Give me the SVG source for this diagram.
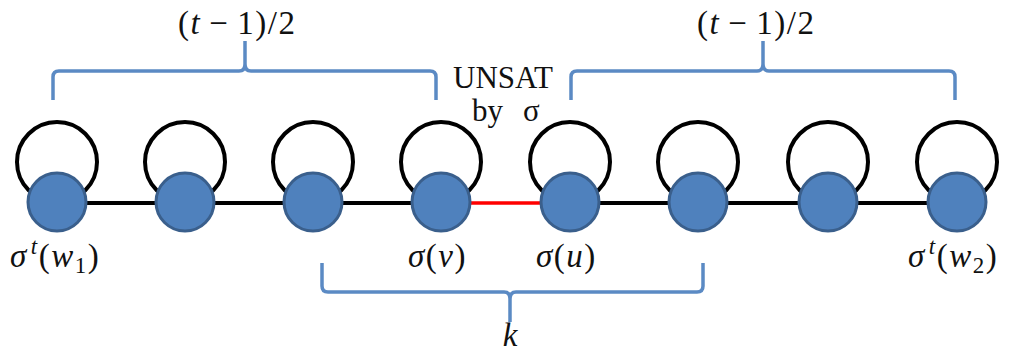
<svg xmlns="http://www.w3.org/2000/svg" width="1010" height="352" viewBox="0 0 1010 352">
<style>
.loop{fill:none;stroke:#000;stroke-width:4}
.node{fill:#4F81BD;stroke:#3A5F8C;stroke-width:3}
.edge{stroke:#000;stroke-width:4}
.red{stroke:#FF0000;stroke-width:3.5}
.brace{fill:none;stroke:#5B8AC4;stroke-width:3.5;stroke-linejoin:round}
.m{font-family:"Liberation Serif",serif;font-size:33px;fill:#111;font-style:italic}
.r{font-family:"Liberation Serif",serif;font-size:33px;fill:#111;letter-spacing:1.5px}
.t{font-family:"Liberation Serif",serif;font-size:31px;fill:#111}
</style>
<rect width="1010" height="352" fill="#fff"/>
<g id="connectors">
<line class="edge" x1="57" y1="203" x2="441" y2="203"/>
<line class="red" x1="441" y1="203" x2="570" y2="203"/>
<line class="edge" x1="570" y1="203" x2="957" y2="203"/>
</g>
<g id="n1"><circle class="loop" cx="57" cy="162" r="40"/><circle class="node" cx="57" cy="202" r="29"/></g>
<g id="n2"><circle class="loop" cx="185" cy="162" r="40"/><circle class="node" cx="185" cy="202" r="29"/></g>
<g id="n3"><circle class="loop" cx="313" cy="162" r="40"/><circle class="node" cx="313" cy="202" r="29"/></g>
<g id="n4"><circle class="loop" cx="441" cy="162" r="40"/><circle class="node" cx="441" cy="202" r="29"/></g>
<g id="n5"><circle class="loop" cx="570" cy="162" r="40"/><circle class="node" cx="570" cy="202" r="29"/></g>
<g id="n6"><circle class="loop" cx="698" cy="162" r="40"/><circle class="node" cx="698" cy="202" r="29"/></g>
<g id="n7"><circle class="loop" cx="828" cy="162" r="40"/><circle class="node" cx="828" cy="202" r="29"/></g>
<g id="n8"><circle class="loop" cx="957" cy="162" r="40"/><circle class="node" cx="957" cy="202" r="29"/></g>
<g id="braces">
<path class="brace" d="M53,100 V77 Q53,71 59,71 H239 Q245,71 245,64 V41 M245,64 Q245,71 251,71 H430 Q436,71 436,77 V100"/>
<path class="brace" d="M571,100 V77 Q571,71 577,71 H757 Q763,71 763,64 V41 M763,64 Q763,71 769,71 H949 Q955,71 955,77 V100"/>
<path class="brace" d="M322,263 V286 Q322,292 328,292 H504 Q510,292 510,299 V322 M510,299 Q510,292 516,292 H697 Q703,292 703,286 V263"/>
</g>
<g id="labels">
<text class="r" x="178" y="34">(<tspan font-style="italic">t</tspan><tspan dx="8">−</tspan><tspan dx="8">1)/2</tspan></text>
<text class="r" x="697" y="34">(<tspan font-style="italic">t</tspan><tspan dx="8">−</tspan><tspan dx="8">1)/2</tspan></text>
<text class="t" x="453" y="88">UNSAT</text>
<text class="t" x="472" y="121">by<tspan x="523">σ</tspan></text>
<text class="r" x="10" y="267"><tspan font-style="italic">σ</tspan><tspan font-style="italic" font-size="23" dx="3" dy="-13">t</tspan><tspan dy="13">(</tspan><tspan font-style="italic">w</tspan><tspan font-size="23" dy="6">1</tspan><tspan dy="-6">)</tspan></text>
<text class="r" x="908" y="267"><tspan font-style="italic">σ</tspan><tspan font-style="italic" font-size="23" dx="3" dy="-13">t</tspan><tspan dy="13">(</tspan><tspan font-style="italic">w</tspan><tspan font-size="23" dy="6">2</tspan><tspan dy="-6">)</tspan></text>
<text class="r" x="408" y="267"><tspan font-style="italic">σ</tspan>(<tspan font-style="italic">v</tspan>)</text>
<text class="r" x="536" y="267"><tspan font-style="italic">σ</tspan>(<tspan font-style="italic">u</tspan>)</text>
<text class="m" x="510" y="346" text-anchor="middle">k</text>
</g>
</svg>
